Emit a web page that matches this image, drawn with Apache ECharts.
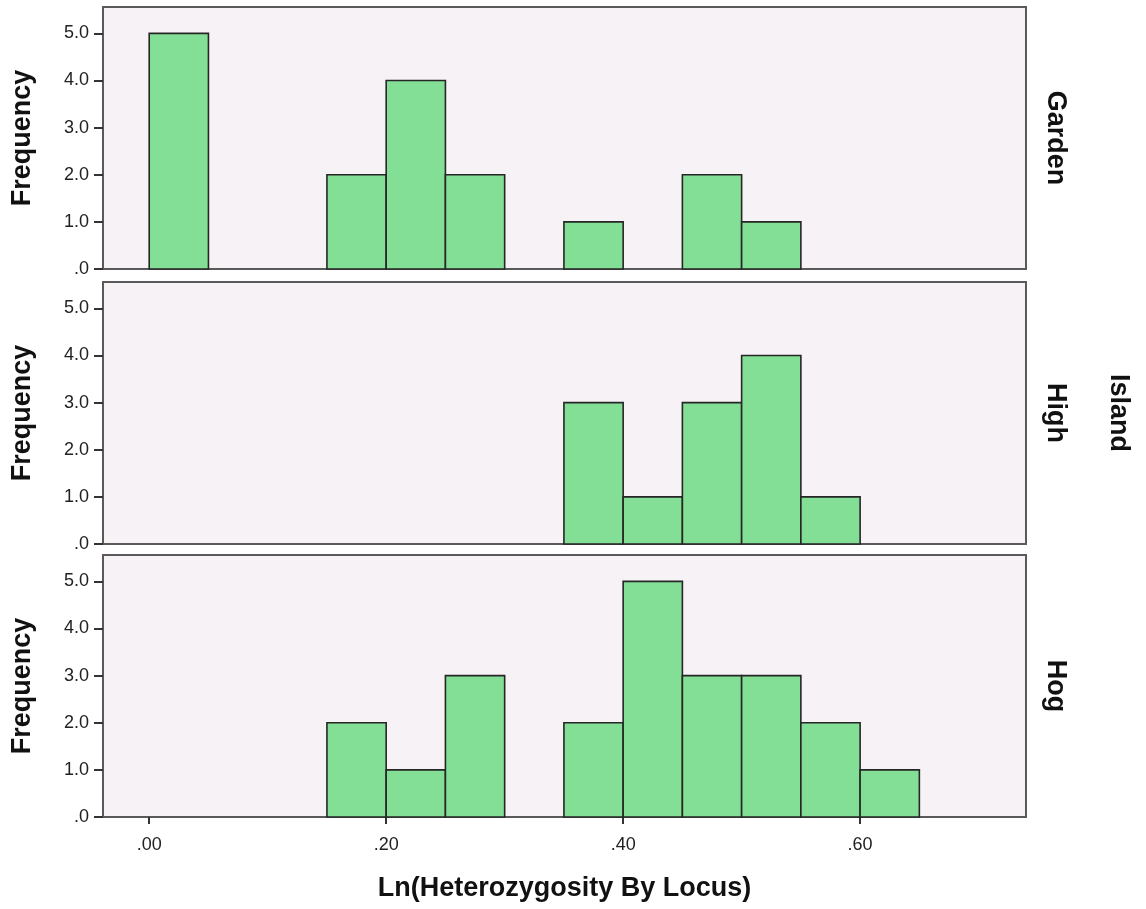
<!DOCTYPE html>
<html>
<head>
<meta charset="utf-8">
<script src="https://cdn.jsdelivr.net/npm/echarts@6/dist/echarts.min.js"></script>
<style>
html,body{margin:0;padding:0;background:#fff;}
#chart{width:1146px;height:909px;}
</style>
</head>
<body>
<div id="chart"></div>
<script>
// ---- data ----
const groups = ['Garden', 'High', 'Hog'];
const outerLabel = 'Island';
const binWidth = 0.05;
const gardenBins = [0.00, 0.15, 0.20, 0.25, 0.35, 0.45, 0.50];
const gardenCounts = [5, 2, 4, 2, 1, 2, 1];
const highBins = [0.35, 0.40, 0.45, 0.50, 0.55];
const highCounts = [3, 1, 3, 4, 1];
const hogBins = [0.15, 0.20, 0.25, 0.35, 0.40, 0.45, 0.50, 0.55, 0.60];
const hogCounts = [2, 1, 3, 2, 5, 3, 3, 2, 1];
const yTicks = [0, 1, 2, 3, 4, 5];
const xTicks = [0, 0.2, 0.4, 0.6];
const xTitle = 'Ln(Heterozygosity By Locus)';
const yTitle = 'Frequency';

const binsList = [gardenBins, highBins, hogBins];
const countsList = [gardenCounts, highCounts, hogCounts];

const chart = echarts.init(document.getElementById('chart'), null, {renderer: 'canvas'});

const gridTops = [7, 282, 555];
const gridH = 262;
const LEFT = 103, RIGHT = 120;
const FONT = '"Liberation Sans", Arial, sans-serif';

const grids = [], xAxes = [], yAxes = [], series = [];
for (let i = 0; i < 3; i++) {
  grids.push({
    left: LEFT, right: RIGHT, top: gridTops[i], height: gridH,
    show: true, backgroundColor: '#F7F2F6', borderColor: '#5a5a5a', borderWidth: 2
  });
  const isBottom = i === 2;
  xAxes.push({
    type: 'value', gridIndex: i, min: -0.039, max: 0.74,
    axisLine: {show: false, onZero: false},
    splitLine: {show: false},
    axisTick: {show: isBottom, customValues: xTicks, length: 7, lineStyle: {color: '#333', width: 2}},
    axisLabel: {
      show: isBottom, customValues: xTicks, margin: 19,
      fontFamily: FONT, fontSize: 18, color: '#222',
      formatter: v => v.toFixed(2).replace(/^0/, '')
    },
    name: isBottom ? xTitle : '',
    nameLocation: 'middle', nameGap: 58,
    nameTextStyle: {fontFamily: FONT, fontSize: 27, fontWeight: 'bold', color: '#111'}
  });
  yAxes.push({
    type: 'value', gridIndex: i, min: 0, max: 5.56,
    axisLine: {show: false, onZero: false},
    splitLine: {show: false},
    axisTick: {show: true, customValues: yTicks, length: 9, lineStyle: {color: '#333', width: 2}},
    axisLabel: {
      customValues: yTicks, margin: 14,
      fontFamily: FONT, fontSize: 18, color: '#222',
      formatter: v => v === 0 ? '.0' : v.toFixed(1)
    },
    name: yTitle, nameLocation: 'middle', nameRotate: 90, nameGap: 67,
    nameTextStyle: {fontFamily: FONT, fontSize: 27, fontWeight: 'bold', color: '#111'}
  });
  const data = binsList[i].map((b, k) => [b, countsList[i][k]]);
  series.push({
    type: 'custom', xAxisIndex: i, yAxisIndex: i,
    data: data,
    renderItem: function (params, api) {
      const x0 = api.value(0);
      const y = api.value(1);
      const p0 = api.coord([x0, 0]);
      const p1 = api.coord([x0 + binWidth, y]);
      return {
        type: 'rect',
        shape: {x: p0[0], y: p1[1], width: p1[0] - p0[0], height: p0[1] - p1[1]},
        style: {fill: '#84DF96', stroke: '#262626', lineWidth: 1.6}
      };
    },
    encode: {x: 0, y: 1}
  });
}

const graphics = [];
const rowX = 1055;
for (let i = 0; i < 3; i++) {
  graphics.push({
    type: 'text', x: rowX, y: gridTops[i] + gridH / 2, rotation: -Math.PI / 2,
    style: {text: groups[i], fontFamily: FONT, fontSize: 27, fontWeight: 'bold', fill: '#111',
      align: 'center', verticalAlign: 'middle'}
  });
}
graphics.push({
  type: 'text', x: 1118, y: gridTops[1] + gridH / 2, rotation: -Math.PI / 2,
  style: {text: outerLabel, fontFamily: FONT, fontSize: 27, fontWeight: 'bold', fill: '#111',
    align: 'center', verticalAlign: 'middle'}
});

chart.setOption({
  animation: false,
  backgroundColor: '#fff',
  grid: grids, xAxis: xAxes, yAxis: yAxes, series: series,
  graphic: graphics
});
</script>
</body>
</html>
